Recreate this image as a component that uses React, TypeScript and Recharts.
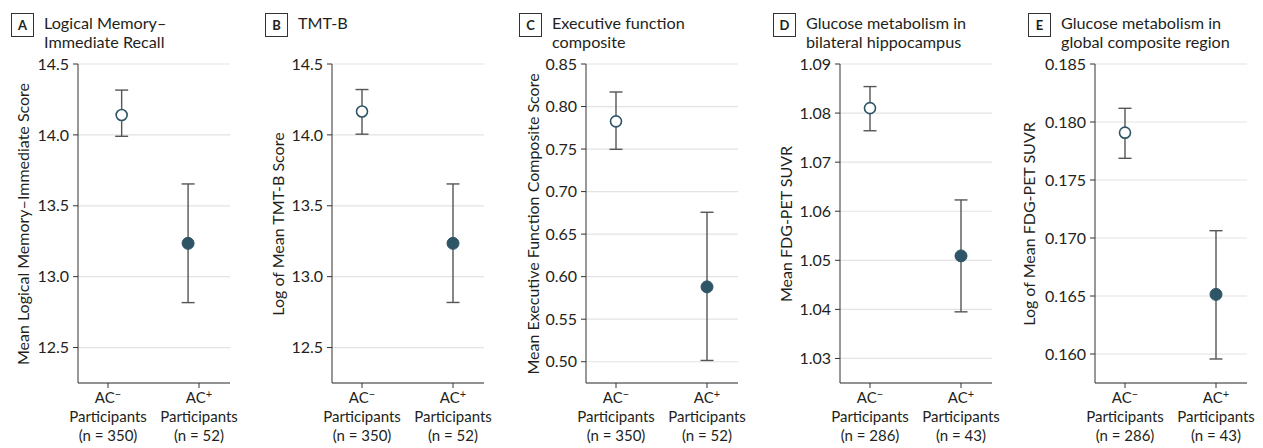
import React from 'react';
import { ScatterChart, Scatter, XAxis, YAxis, CartesianGrid, ErrorBar } from 'recharts';

// panel text
const panelLetters = ['A', 'B', 'C', 'D', 'E'];
const panelTitles = [
  ['Logical Memory–', 'Immediate Recall'],
  ['TMT-B'],
  ['Executive function', 'composite'],
  ['Glucose metabolism in', 'bilateral hippocampus'],
  ['Glucose metabolism in', 'global composite region'],
];
const yLabels = [
  'Mean Logical Memory–Immediate Score',
  'Log of Mean TMT-B Score',
  'Mean Executive Function Composite Score',
  'Mean FDG-PET SUVR',
  'Log of Mean FDG-PET SUVR',
];
const groupSigns = ['−', '+'];
const nNeg = [350, 350, 350, 286, 286];
const nPos = [52, 52, 52, 43, 43];

// AC- estimates
const negMean = [14.14, 14.165, 0.7826, 1.081, 0.17908];
const negLow = [13.99, 14.005, 0.7497, 1.0764, 0.17687];
const negHigh = [14.316, 14.32, 0.8171, 1.0854, 0.18118];
// AC+ estimates
const posMean = [13.235, 13.235, 0.588, 1.0509, 0.16514];
const posLow = [12.817, 12.818, 0.5015, 1.0395, 0.15957];
const posHigh = [13.654, 13.654, 0.6757, 1.0623, 0.17063];

// y axis ticks
const yTicks = [
  [12.5, 13.0, 13.5, 14.0, 14.5],
  [12.5, 13.0, 13.5, 14.0, 14.5],
  [0.5, 0.55, 0.6, 0.65, 0.7, 0.75, 0.8, 0.85],
  [1.03, 1.04, 1.05, 1.06, 1.07, 1.08, 1.09],
  [0.16, 0.165, 0.17, 0.175, 0.18, 0.185],
];
const yFloor = [12.25, 12.25, 0.475, 1.025, 0.1575];
const yDecimals = [1, 1, 2, 2, 3];

// layout
const axisX = [78, 332, 586, 840, 1095];
const labelX = [22, 277, 532, 785, 1028];
const pointShift = [
  [0.15, -0.12],
  [0, 0],
  [0, 0],
  [0, 0],
  [0, 0],
];
const PLOT_TOP = 64;
const PLOT_BOTTOM = 383;
const PLOT_W = 152;
const FONT = 'Lato, "Noto Sans", sans-serif';
const TEXT = '#231f20';
const DOT = '#2e5566';

const OpenDot = (props: any) => (
  <circle cx={props.cx} cy={props.cy} r={5.5} fill="#fff" stroke={DOT} strokeWidth={1.6} />
);
const FilledDot = (props: any) => (
  <circle cx={props.cx} cy={props.cy} r={6} fill={DOT} stroke={DOT} strokeWidth={1} />
);

const makeXTick = (n: number[]) => (props: any) => {
  const { x, y, payload } = props;
  const i = payload.value === 1 ? 0 : 1;
  return (
    <g>
      <text x={x} y={y + 13} textAnchor="middle" fill={TEXT} fontSize={15} fontFamily={FONT}>
        <tspan>AC</tspan>
        <tspan dy={-5} fontSize={11}>{groupSigns[i]}</tspan>
      </text>
      <text x={x} y={y + 32} textAnchor="middle" fill={TEXT} fontSize={15} fontFamily={FONT}>
        Participants
      </text>
      <text x={x} y={y + 51} textAnchor="middle" fill={TEXT} fontSize={15} fontFamily={FONT}>
        {`(n = ${n[i]})`}
      </text>
    </g>
  );
};

const Panel = ({ k }: { k: number }) => {
  const negData = [{ x: 1 + pointShift[k][0], y: negMean[k], err: [negMean[k] - negLow[k], negHigh[k] - negMean[k]] }];
  const posData = [{ x: 2 + pointShift[k][1], y: posMean[k], err: [posMean[k] - posLow[k], posHigh[k] - posMean[k]] }];
  const top = yTicks[k][yTicks[k].length - 1];
  const left = axisX[k] - 78;
  return (
    <>
      <div
        style={{
          position: 'absolute',
          left: axisX[k] - 67,
          top: 13,
          width: 23,
          height: 24,
          border: '1px solid #333',
          boxSizing: 'border-box',
          fontFamily: FONT,
          fontWeight: 700,
          fontSize: 13,
          color: TEXT,
          display: 'flex',
          alignItems: 'center',
          justifyContent: 'center',
        }}
      >
        {panelLetters[k]}
      </div>
      <div
        style={{
          position: 'absolute',
          left: axisX[k] - 34,
          top: 13,
          fontFamily: FONT,
          fontSize: 16.2,
          lineHeight: '19px',
          color: TEXT,
          whiteSpace: 'nowrap',
        }}
      >
        {panelTitles[k].map((t) => (
          <div key={t}>{t}</div>
        ))}
      </div>
      <div
        style={{
          position: 'absolute',
          left: labelX[k],
          top: (PLOT_TOP + PLOT_BOTTOM) / 2,
          transform: 'translate(-50%, -50%) rotate(-90deg)',
          fontFamily: FONT,
          fontSize: 16,
          color: TEXT,
          whiteSpace: 'nowrap',
        }}
      >
        {yLabels[k]}
      </div>
      <div style={{ position: 'absolute', left, top: 0 }}>
        <ScatterChart width={78 + PLOT_W + 8} height={448} margin={{ top: PLOT_TOP, right: 8, bottom: 0, left: 0 }}>
          <CartesianGrid horizontal vertical={false} stroke="#e3e3e3" strokeWidth={1.2} />
          <XAxis
            type="number"
            dataKey="x"
            domain={[1 - 30 / 91, 2 + 31 / 91]}
            ticks={[1, 2]}
            allowDataOverflow
            height={448 - PLOT_BOTTOM}
            tickSize={5}
            tickMargin={2}
            stroke="#333"
            tick={makeXTick([nNeg[k], nPos[k]])}
          />
          <YAxis
            type="number"
            dataKey="y"
            domain={[yFloor[k], top]}
            ticks={yTicks[k]}
            allowDataOverflow
            width={78}
            tickSize={5}
            tickMargin={4}
            stroke="#333"
            tickFormatter={(v: number) => v.toFixed(yDecimals[k])}
            tick={{ fill: TEXT, fontSize: 16, fontFamily: FONT }}
          />
          <Scatter data={negData} shape={OpenDot} isAnimationActive={false}>
            <ErrorBar dataKey="err" direction="y" width={6.5} stroke="#555" strokeWidth={1.4} />
          </Scatter>
          <Scatter data={posData} shape={FilledDot} isAnimationActive={false}>
            <ErrorBar dataKey="err" direction="y" width={6.5} stroke="#555" strokeWidth={1.4} />
          </Scatter>
        </ScatterChart>
      </div>
    </>
  );
};

export default function App() {
  return (
    <div style={{ position: 'absolute', left: 0, top: 0, width: 1263, height: 448, background: '#fff' }}>
      {panelLetters.map((_, k) => (
        <Panel key={k} k={k} />
      ))}
    </div>
  );
}
